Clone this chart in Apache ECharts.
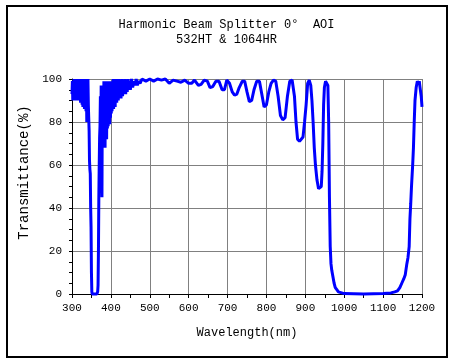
<!DOCTYPE html>
<html>
<head>
<meta charset="utf-8">
<script src="https://cdn.jsdelivr.net/npm/echarts@6/dist/echarts.min.js"></script>
<style>
html,body{margin:0;padding:0;background:#fff;}
#chart{width:453px;height:362px;}
</style>
</head>
<body>
<div id="chart"></div>
<script>
var titleLines = ["Harmonic Beam Splitter 0°  AOI", "532HT & 1064HR"];
var xAxisName = "Wavelength(nm)";
var yAxisName = "Transmittance(%)";
var xTicks = [300, 400, 500, 600, 700, 800, 900, 1000, 1100, 1200];
var yTicks = [0, 20, 40, 60, 80, 100];

var wavelength = [
300,301,302,303,304,305,306,307,308,309,310,311,312,313,314,315,316,317,318,319,
320,321,322,323,324,325,326,327,328,329,330,331,332,333,334,335,336,337,338,339,
340,341,342,343,344,345,346,347,348,349,350,351,352,355,358,361,364,366,367,368,
369,370,371,372,373,374,375,376,377,378,379,380,381,382,383,384,385,386,387,388,
389,390,391,392,393,394,395,396,397,398,399,400,401,402,403,404,405,406,407,408,
409,410,411,412,413,414,415,416,417,418,419,420,422,424,426,428,430,432,434,436,
438,440,442,444,446,448,450,453,456,459,462,465,468,471,475,480,490,500,510,520,
530,540,550,560,570,580,590,600,608,615,625,632,640,648,655,662,670,678,686,692,
698,705,712,718,724,730,738,744,750,756,762,768,775,782,788,794,800,806,812,818,
824,830,836,842,848,854,860,866,872,876,880,885,890,894,898,902,906,910,914,917,
920,923,926,930,934,938,941,943,945,947,949,952,956,958,960,962,964,966,968,971,
974,977,981,985,990,1000,1050,1100,1120,1130,1137,1143,1148,1153,1157,1161,1164,1167,1169,1171,
1173,1176,1178,1180,1182,1185,1188,1191,1193,1195,1198,1200
];
var transmittance = [
93,99,90,98,91,100,92,99,90,100,91,99,92,100,90,99,91,100,90,99,
92,100,89,99,90,100,88,99,87,100,88,99,86,100,88,99,85,100,80,98,
90,100,88,82,76,62,58,56,40,31,10,1,0,0,0,0,0,1,4,20,
45,60,73,78,92,70,97,80,45,93,70,97,68,99,72,98,68,99,75,98,
72,99,77,97,78,99,80,98,79,99,82,97,84,99,85,98,86,100,86,98,
88,99,87,100,89,98,89,100,90,99,90,100,91,99,91,100,92,99,93,100,
93,99,94,100,95,99,95,100,96,99,97,100,97,99,98,100,99,100,99,100,
99.5,100,98,99.5,99,98.5,99.5,98,98,99.5,97,97.5,99.5,99,96,96.5,99,99,95,95,
99.5,98,94,92.5,93,96,99,99,94,89.5,90,95,99,99,93,87,88,94,98,99.5,
99,92,83,81,82,92,99,99.5,92,80,72,71,71,73,80,88,98,99.5,97,90,
80,68,60,53,49,48.5,50,57,70,88,96,99,99.5,97,80,45,22,14,11,8,
5,3,2,1,0.5,0.2,0,0.2,0.5,1,1.5,3,5,7,9,14,17,22,35,42,
50,60,68,80,90,96,99,98,99,96,92,87
];

var seriesData = wavelength.map(function (w, i) { return [w, transmittance[i]]; });

var monoFont = '"Liberation Mono", "DejaVu Sans Mono", monospace';

var chart = echarts.init(document.getElementById('chart'), null, {renderer: 'canvas'});
chart.setOption({
  animation: false,
  backgroundColor: '#ffffff',
  title: {
    text: titleLines.join('\n'),
    left: 'center',
    top: 17,
    padding: 0,
    textStyle: {
      fontFamily: monoFont,
      fontSize: 12,
      fontWeight: 'normal',
      color: '#000',
      lineHeight: 15
    }
  },
  graphic: [{
    type: 'rect',
    shape: {x: 7, y: 6, width: 440, height: 351},
    style: {fill: 'none', stroke: '#000', lineWidth: 2},
    silent: true,
    z: 100
  }],
  grid: {left: 72, right: 31, top: 79, bottom: 68, containLabel: false},
  xAxis: {
    type: 'value',
    min: xTicks[0],
    max: xTicks[xTicks.length - 1],
    interval: 100,
    name: xAxisName,
    nameLocation: 'middle',
    nameGap: 33,
    nameTextStyle: {fontFamily: monoFont, fontSize: 12, color: '#000'},
    axisLine: {show: true, lineStyle: {color: '#000', width: 1}},
    axisTick: {show: true, length: 4, inside: false, lineStyle: {color: '#000'}},
    minorTick: {show: true, splitNumber: 2, length: 4, lineStyle: {color: '#000'}},
    axisLabel: {
      fontFamily: monoFont, fontSize: 11, color: '#000', margin: 9,
      formatter: function (v) { return String(v); }
    },
    splitLine: {show: true, lineStyle: {color: '#808080', width: 1}}
  },
  yAxis: {
    type: 'value',
    min: yTicks[0],
    max: yTicks[yTicks.length - 1],
    interval: 20,
    name: yAxisName,
    nameLocation: 'middle',
    nameGap: 34,
    nameRotate: 90,
    nameTextStyle: {fontFamily: monoFont, fontSize: 14, color: '#000', padding: [0, 0, 0, 28]},
    axisLine: {show: true, lineStyle: {color: '#000', width: 1}},
    axisTick: {show: true, length: 3, inside: false, lineStyle: {color: '#000'}},
    minorTick: {show: true, splitNumber: 4, length: 3, lineStyle: {color: '#000'}},
    axisLabel: {
      fontFamily: monoFont, fontSize: 11, color: '#000', margin: 10,
      formatter: function (v) { return String(v); }
    },
    splitLine: {show: true, lineStyle: {color: '#808080', width: 1}}
  },
  series: [{
    type: 'line',
    data: seriesData,
    showSymbol: false,
    symbol: 'none',
    clip: false,
    lineStyle: {color: '#0000ff', width: 3},
    z: 10
  }]
});
</script>
</body>
</html>
